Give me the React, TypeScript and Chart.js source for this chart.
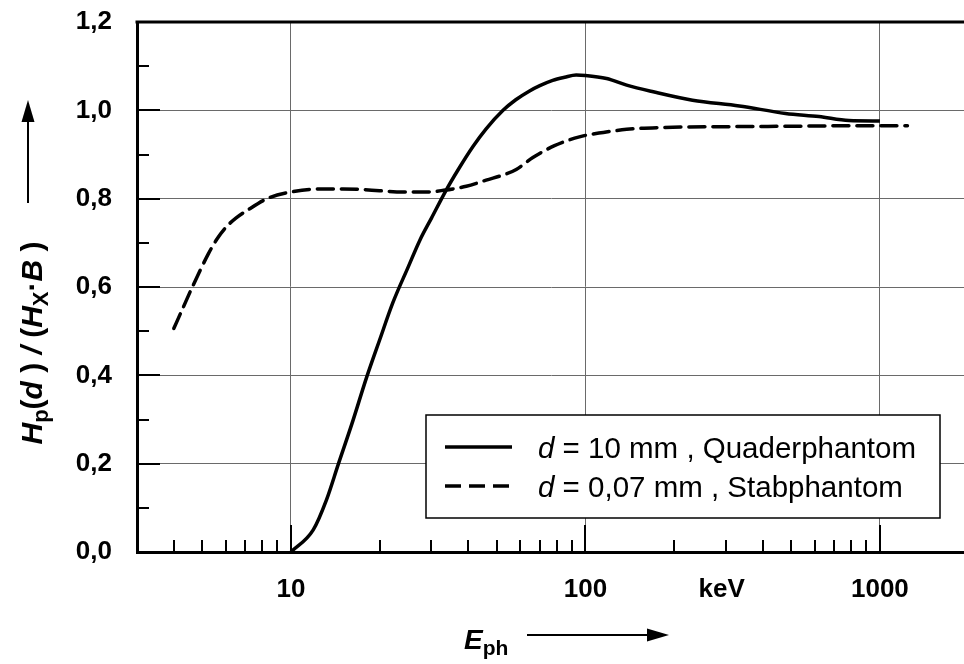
import { useEffect, useRef } from 'react';
import { Chart, registerables } from 'chart.js';

Chart.register(...registerables);

// ---- data ----
const quaderE = [10, 11.9, 13.2, 14.5, 16.1, 18.1, 20, 22.2, 25, 27.4, 30, 33.7, 37, 41.5, 46, 52.5, 58, 64.6, 70, 77.4, 85, 93, 100, 118, 138, 170, 231, 333, 478, 621, 785, 1000];
const quaderV = [0.0, 0.05, 0.118, 0.2, 0.29, 0.397, 0.48, 0.565, 0.645, 0.706, 0.756, 0.82, 0.866, 0.918, 0.958, 1.0, 1.024, 1.044, 1.056, 1.068, 1.075, 1.08, 1.079, 1.072, 1.057, 1.042, 1.023, 1.01, 0.993, 0.986, 0.977, 0.976];

const stabE = [4.0, 4.3, 4.61, 5.24, 5.6, 6.05, 6.5, 7.08, 8.49, 10.2, 12.5, 15, 17.1, 20, 24, 28.8, 33, 39.4, 46, 53.8, 58.2, 66.3, 78.5, 95.4, 115, 138, 178, 300, 500, 800, 1240];
const stabV = [0.506, 0.553, 0.598, 0.675, 0.708, 0.737, 0.756, 0.773, 0.803, 0.816, 0.822, 0.822, 0.821, 0.818, 0.815, 0.815, 0.819, 0.828, 0.842, 0.856, 0.866, 0.893, 0.92, 0.94, 0.95, 0.957, 0.961, 0.963, 0.964, 0.965, 0.965];

const seriesNames = ['= 10 mm , Quaderphantom', '= 0,07 mm , Stabphantom'];

const xMinorTicks = [4, 5, 6, 7, 8, 9, 20, 30, 40, 50, 60, 70, 80, 90, 200, 300, 400, 500, 600, 700, 800, 900];
const xMajorTicks = [10, 100, 1000];
const xLabelValues = [10, 100, 290, 1000];
const xLabelTexts = ['10', '100', 'keV', '1000'];
const yTickValues = [0, 0.1, 0.2, 0.3, 0.4, 0.5, 0.6, 0.7, 0.8, 0.9, 1.0, 1.1, 1.2];
const yLabelTexts = ['0,0', '', '0,2', '', '0,4', '', '0,6', '', '0,8', '', '1,0', '', '1,2'];

const FONT = '"Liberation Sans", Arial, Helvetica, sans-serif';
const GRID = '#6a6a6a';

type Seg = { t: string; f: string; dy?: number };

function drawRich(ctx: CanvasRenderingContext2D, segs: Seg[], x: number, y: number, center = false) {
  let total = 0;
  for (const s of segs) { ctx.font = s.f; total += ctx.measureText(s.t).width; }
  let cx = center ? x - total / 2 : x;
  ctx.textAlign = 'left';
  ctx.textBaseline = 'alphabetic';
  for (const s of segs) {
    ctx.font = s.f;
    ctx.fillText(s.t, cx, y + (s.dy || 0));
    cx += ctx.measureText(s.t).width;
  }
  return total;
}

function arrow(ctx: CanvasRenderingContext2D, x1: number, y1: number, x2: number, y2: number) {
  const ang = Math.atan2(y2 - y1, x2 - x1);
  const hl = 22, hw = 6.5;
  const bx = x2 - hl * Math.cos(ang), by = y2 - hl * Math.sin(ang);
  ctx.beginPath();
  ctx.moveTo(x1, y1);
  ctx.lineTo(bx, by);
  ctx.lineWidth = 2;
  ctx.strokeStyle = '#000';
  ctx.stroke();
  ctx.beginPath();
  ctx.moveTo(x2, y2);
  ctx.lineTo(bx + hw * Math.sin(ang), by - hw * Math.cos(ang));
  ctx.lineTo(bx - hw * Math.sin(ang), by + hw * Math.cos(ang));
  ctx.closePath();
  ctx.fillStyle = '#000';
  ctx.fill();
}

const decor = {
  id: 'decor',
  afterDraw(chart: any) {
    const ctx: CanvasRenderingContext2D = chart.ctx;
    const { left, right, top, bottom } = chart.chartArea;
    const xs = chart.scales.x, ys = chart.scales.y;
    ctx.save();
    // top border
    ctx.strokeStyle = '#000';
    ctx.lineWidth = 3;
    ctx.beginPath();
    ctx.moveTo(left - 1.5, top);
    ctx.lineTo(right, top);
    ctx.stroke();
    // inward tick marks
    ctx.lineWidth = 2;
    ctx.beginPath();
    for (const v of xMinorTicks) {
      const px = Math.round(xs.getPixelForValue(v));
      ctx.moveTo(px, bottom);
      ctx.lineTo(px, bottom - 12);
    }
    for (const v of xMajorTicks) {
      const px = Math.round(xs.getPixelForValue(v));
      ctx.moveTo(px, bottom);
      ctx.lineTo(px, bottom - 27);
    }
    yTickValues.forEach((v, i) => {
      if (i === 0 || i === yTickValues.length - 1) return;
      const py = Math.round(ys.getPixelForValue(v));
      ctx.moveTo(left, py);
      ctx.lineTo(left + (i % 2 === 0 ? 23 : 12), py);
    });
    ctx.stroke();

    // legend
    const lx = 426, ly = 415, lw = 514, lh = 103;
    ctx.fillStyle = '#fff';
    ctx.fillRect(lx, ly, lw, lh);
    ctx.lineWidth = 1.5;
    ctx.strokeStyle = '#000';
    ctx.strokeRect(lx, ly, lw, lh);
    const rows = [447, 486];
    chart.data.datasets.forEach((ds: any, i: number) => {
      ctx.beginPath();
      ctx.setLineDash(ds.borderDash || []);
      ctx.lineWidth = ds.borderWidth;
      ctx.strokeStyle = ds.borderColor;
      ctx.moveTo(445, rows[i]);
      ctx.lineTo(512, rows[i]);
      ctx.stroke();
      ctx.setLineDash([]);
      ctx.fillStyle = '#000';
      drawRich(ctx, [
        { t: 'd', f: `italic 29.5px ${FONT}` },
        { t: ' ' + seriesNames[i], f: `29.5px ${FONT}` },
      ], 538, rows[i] + 11);
    });

    // y-axis title (rotated)
    ctx.fillStyle = '#000';
    ctx.save();
    ctx.translate(42, 343);
    ctx.rotate(-Math.PI / 2);
    drawRich(ctx, [
      { t: 'H', f: `italic bold 30px ${FONT}` },
      { t: 'p', f: `bold 22px ${FONT}`, dy: 6 },
      { t: '(', f: `bold 30px ${FONT}` },
      { t: 'd', f: `italic bold 30px ${FONT}` },
      { t: ' ) ', f: `bold 30px ${FONT}` },
      { t: '/', f: `italic bold 30px ${FONT}` },
      { t: ' (', f: `bold 30px ${FONT}` },
      { t: 'H', f: `italic bold 30px ${FONT}` },
      { t: 'X', f: `bold 22px ${FONT}`, dy: 6 },
      { t: '·', f: `bold 30px ${FONT}` },
      { t: 'B', f: `italic bold 30px ${FONT}` },
      { t: ' )', f: `bold 30px ${FONT}` },
    ], 0, 0, true);
    ctx.restore();
    arrow(ctx, 28, 203, 28, 100);

    // x-axis title
    drawRich(ctx, [
      { t: 'E', f: `italic bold 28px ${FONT}` },
      { t: 'ph', f: `bold 21px ${FONT}`, dy: 6 },
    ], 464, 649);
    arrow(ctx, 527, 635, 669, 635);
    ctx.restore();
  },
};

export default function App() {
  const ref = useRef<HTMLCanvasElement | null>(null);
  useEffect(() => {
    if (!ref.current) return;
    const chart = new Chart(ref.current, {
      type: 'line',
      data: {
        datasets: [
          {
            label: seriesNames[0],
            data: quaderE.map((e, i) => ({ x: e, y: quaderV[i] })),
            borderColor: '#000',
            borderWidth: 3.5,
            pointRadius: 0,
            cubicInterpolationMode: 'monotone',
            fill: false,
          },
          {
            label: seriesNames[1],
            data: stabE.map((e, i) => ({ x: e, y: stabV[i] })),
            borderColor: '#000',
            borderWidth: 3.5,
            borderDash: [16, 8],
            borderCapStyle: 'round',
            pointRadius: 0,
            cubicInterpolationMode: 'monotone',
            fill: false,
          },
        ],
      },
      options: {
        responsive: false,
        animation: false,
        devicePixelRatio: 1,
        layout: { padding: { top: 22, left: 0, right: 0, bottom: 0 } },
        plugins: { legend: { display: false }, tooltip: { enabled: false } },
        scales: {
          x: {
            type: 'logarithmic',
            min: 3,
            max: 1930,
            afterBuildTicks: (s: any) => {
              const vals = [...xMinorTicks, ...xMajorTicks, 290].sort((a, b) => a - b);
              s.ticks = vals.map((v) => ({ value: v }));
            },
            afterFit: (s: any) => { s.height = 112; s.paddingLeft = 0; s.paddingRight = 0; },
            grid: {
              drawTicks: false,
              lineWidth: 1,
              color: (c: any) => (c.tick && xMajorTicks.includes(c.tick.value) ? GRID : 'rgba(0,0,0,0)'),
            },
            border: { color: '#000', width: 3 },
            ticks: {
              autoSkip: false,
              maxRotation: 0,
              padding: 22,
              color: '#000',
              font: { family: FONT, size: 26, weight: 'bold' },
              callback: (_v: any, i: number, ticks: any[]) => {
                const k = xLabelValues.indexOf(ticks[i].value);
                return k >= 0 ? xLabelTexts[k] : '';
              },
            },
          },
          y: {
            type: 'linear',
            min: 0,
            max: 1.2,
            afterBuildTicks: (s: any) => { s.ticks = yTickValues.map((v) => ({ value: v })); },
            afterFit: (s: any) => { s.width = 137; s.paddingTop = 0; s.paddingBottom = 0; },
            grid: {
              drawTicks: false,
              lineWidth: 1,
              color: (c: any) => (c.index % 2 === 0 ? GRID : 'rgba(0,0,0,0)'),
            },
            border: { color: '#000', width: 3 },
            ticks: {
              autoSkip: false,
              padding: 25,
              color: '#000',
              font: { family: FONT, size: 26, weight: 'bold' },
              callback: (_v: any, i: number) => yLabelTexts[i],
            },
          },
        },
      },
      plugins: [decor],
    } as any);
    return () => chart.destroy();
  }, []);
  return (
    <div style={{ position: 'fixed', left: 0, top: 0, width: 964, height: 664, background: '#fff' }}>
      <canvas ref={ref} width={964} height={664} />
    </div>
  );
}
